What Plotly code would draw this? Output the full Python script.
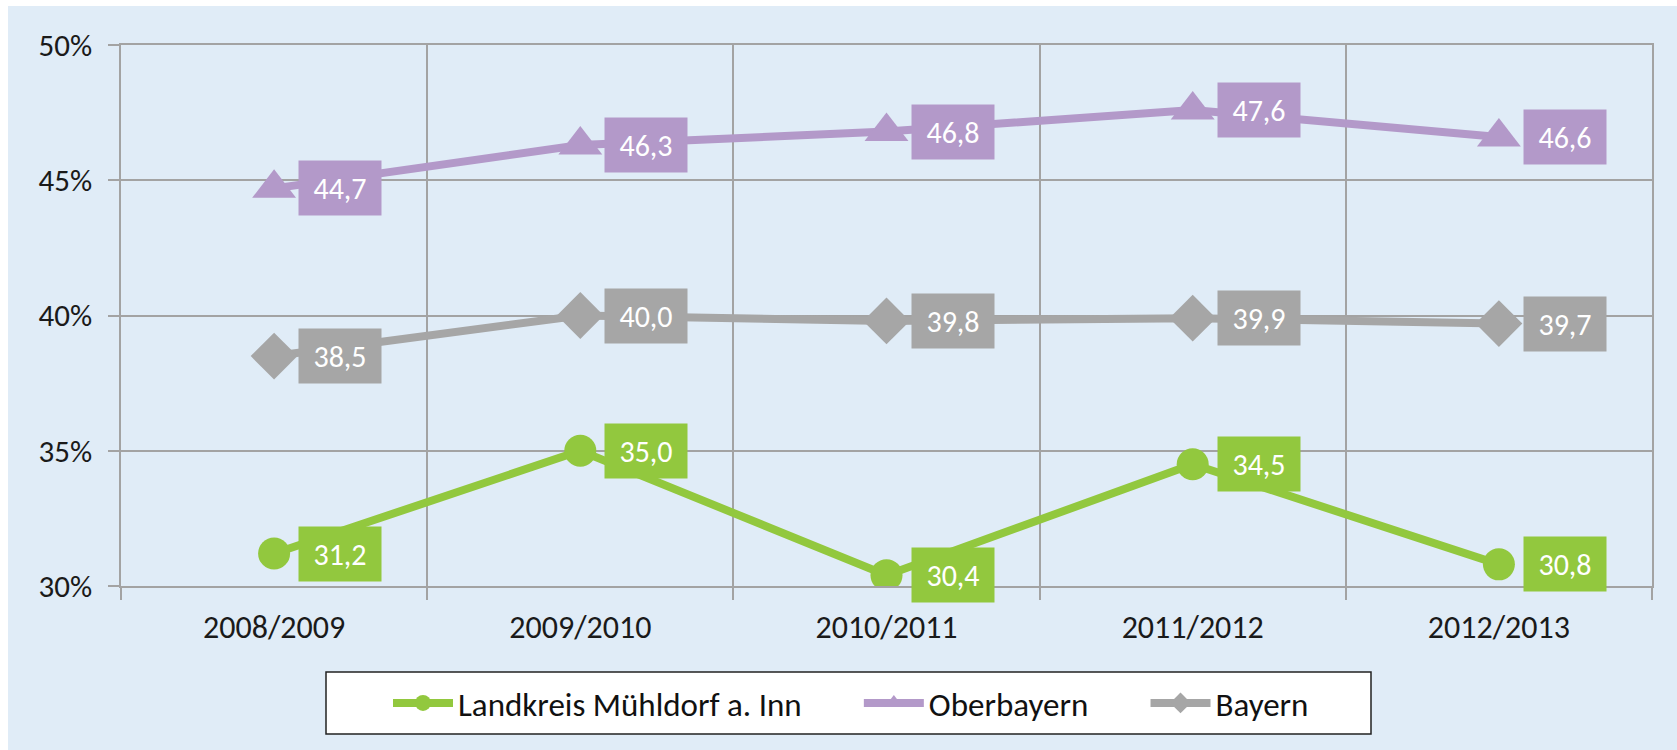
import plotly.graph_objects as go

categories = ["2008/2009", "2009/2010", "2010/2011", "2011/2012", "2012/2013"]
muehldorf = [31.2, 35.0, 30.4, 34.5, 30.8]
oberbayern = [44.7, 46.3, 46.8, 47.6, 46.6]
bayern = [38.5, 40.0, 39.8, 39.9, 39.7]
y_ticks = [30, 35, 40, 45, 50]
y_tick_labels = ["30%", "35%", "40%", "45%", "50%"]

series = [
    ("Landkreis Mühldorf a. Inn", muehldorf, "#92c83e", "circle", 32),
    ("Oberbayern", oberbayern, "#b399c9", "triangle-up", 38),
    ("Bayern", bayern, "#a6a6a6", "diamond", 36),
]

FONT = "Calibri, Carlito, Lato, sans-serif"
BG = "#e0ecf7"
GRID = "#a3a3a3"
NBSP = "\u00a0"

fig = go.Figure()
annotations = []
for i, (name, vals, color, sym, msize) in enumerate(series):
    fig.add_trace(go.Scatter(
        x=categories, y=vals, name=name + (NBSP * 7 if i < 2 else ""),
        mode="lines+markers",
        line=dict(color=color, width=8),
        marker=dict(symbol=sym, size=msize, color=color),
    ))
    for c, v in zip(categories, vals):
        annotations.append(dict(
            x=c, y=v, xref="x", yref="y", xanchor="left", yanchor="middle",
            xshift=24, showarrow=False,
            text=f"{v:.1f}".replace(".", ","),
            font=dict(family=FONT, size=30, color="white"),
            bgcolor=color, borderpad=9, width=64, height=36, align="center",
        ))

W, L, R, T, B = 1677, 121, 25, 45, 164
pw = W - L - R
ph = 750 - T - B

fig.update_layout(
    width=W, height=750,
    margin=dict(l=L, r=R, t=T, b=B),
    paper_bgcolor="white",
    plot_bgcolor="rgba(0,0,0,0)",
    font=dict(family=FONT, color="#1a1a1a"),
    annotations=annotations,
    shapes=[
        dict(type="rect", xref="paper", yref="paper", layer="below",
             x0=(8 - L) / pw, x1=1.2, y0=-0.5, y1=(750 - 6 - B) / ph,
             fillcolor=BG, line=dict(width=0)),
        dict(type="rect", xref="paper", yref="paper", layer="below",
             x0=(326 - L) / pw, x1=(1371 - L) / pw,
             y0=(586 - 734) / ph, y1=(586 - 672) / ph,
             fillcolor="white", line=dict(color="#222222", width=1.5)),
    ],
    showlegend=True,
    legend=dict(orientation="h", x=(851 - L) / pw, xanchor="center",
                y=(586 - 703) / ph, yanchor="middle",
                bgcolor="rgba(0,0,0,0)", borderwidth=0,
                font=dict(family=FONT, size=33, color="#111111"),
                itemwidth=60, tracegroupgap=0),
)
fig.update_xaxes(
    type="category", tickson="boundaries", showgrid=True, gridcolor=GRID, gridwidth=1.5,
    ticks="outside", ticklen=12, tickcolor=GRID, tickwidth=1.5,
    showline=True, linecolor=GRID, linewidth=1.5, mirror=True,
    tickfont=dict(family=FONT, size=32, color="#1a1a1a"), range=[-0.5, 4.5],
    ticklabelstandoff=12,
)
fig.update_yaxes(
    range=[30, 50], tickvals=y_ticks, ticktext=y_tick_labels,
    showgrid=True, gridcolor=GRID, gridwidth=1.5, zeroline=False,
    ticks="outside", ticklen=11, tickcolor=GRID, tickwidth=1.5,
    showline=True, linecolor=GRID, linewidth=1.5, mirror=True,
    tickfont=dict(family=FONT, size=31, color="#1a1a1a"),
    ticklabelstandoff=10,
)

fig.write_html(
    "out.html",
    config={"displayModeBar": False},
    post_script="document.body.style.margin='0';document.body.style.overflow='hidden';",
)
